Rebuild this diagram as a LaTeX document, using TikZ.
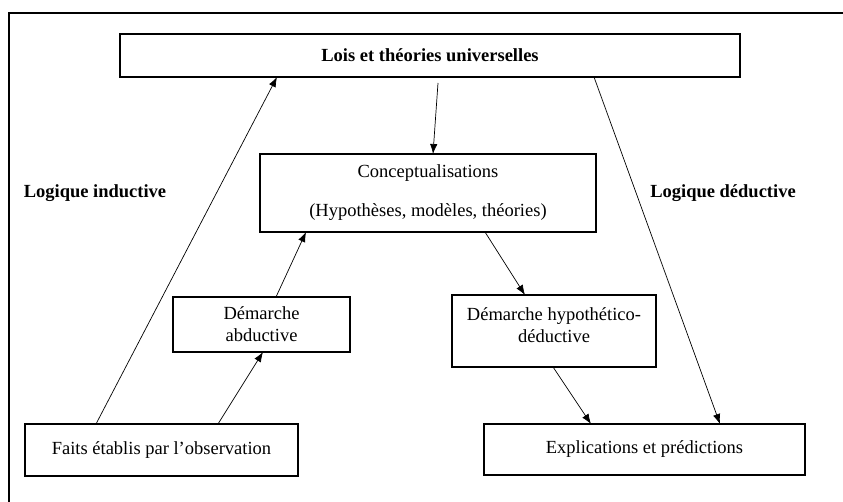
\documentclass[tikz,border=0pt]{standalone}
\usepackage{fontspec}
\setmainfont{Liberation Serif}
\usetikzlibrary{arrows.meta}
\begin{document}
\begin{tikzpicture}[x=1pt,y=-1pt,
  box/.style={draw, line width=1.6pt, inner sep=0pt, outer sep=0pt, align=center,
    font=\fontsize{18.5}{22}\selectfont},
  conn/.style={-{Latex[length=10pt,width=7.5pt]}, line width=0.7pt},
  lbl/.style={font=\fontsize{18.5}{22}\selectfont\bfseries, inner sep=0pt}]
\useasboundingbox[fill=white] (0,0) rectangle (843,502);
\draw[line width=1.4pt] (9,502) -- (9,13) -- (843,13);

\node[box, minimum width=620pt, minimum height=43pt, font=\fontsize{18.5}{22}\selectfont\bfseries] (lois) at (430,55.5) {Lois et théories universelles};
\node[box, minimum width=336pt, minimum height=78pt] (concept) at (428,193) {Conceptualisations\\[17pt](Hypothèses, modèles, théories)};
\node[box, minimum width=177pt, minimum height=55pt] (abd) at (261.5,324.5) {Démarche\\abductive};
\node[box, minimum width=204pt, minimum height=72pt] (hyp) at (554,331) {Démarche hypothético-\\déductive\\[-10pt]\mbox{}};
\node[box, minimum width=273pt, minimum height=52pt] (faits) at (161.5,450) {Faits établis par l’observation};
\node[box, minimum width=321pt, minimum height=51pt] (expl) at (644.5,449.5) {Explications et prédictions};

\node[lbl] (ind) at (95,193) {Logique inductive};
\node[lbl] (ded) at (723,193) {Logique déductive};

\draw[conn] ([xshift=71pt]faits.north west) -- ([xshift=157pt]lois.south west);
\draw[conn] ([xshift=193pt]faits.north west) -- ([xshift=90pt]abd.south west);
\draw[conn] ([xshift=103pt]abd.north west) -- ([xshift=46pt]concept.south west);
\draw[conn] ([xshift=318pt,yshift=-6pt]lois.south west) -- ([xshift=173pt]concept.north west);
\draw[conn] ([xshift=225pt]concept.south west) -- ([xshift=73pt]hyp.north west);
\draw[conn] ([xshift=101pt]hyp.south west) -- ([xshift=107pt]expl.north west);
\draw[conn] ([xshift=474pt]lois.south west) -- ([xshift=236pt]expl.north west);
\end{tikzpicture}
\end{document}
